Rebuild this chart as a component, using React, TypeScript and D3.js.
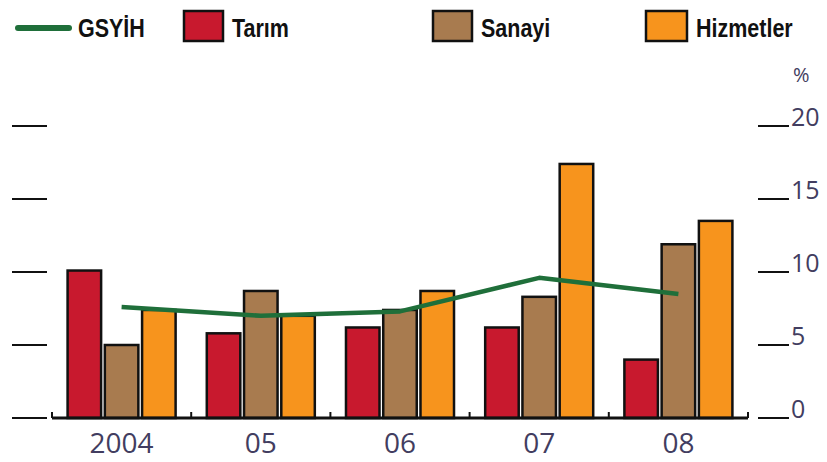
import React, { useEffect, useRef } from 'react';
import * as d3 from 'd3';

const years = ['2004', '05', '06', '07', '08'];
const seriesNames = ['Tarım', 'Sanayi', 'Hizmetler'];
const tarim = [10.1, 5.8, 6.2, 6.2, 4.0];
const sanayi = [5.0, 8.7, 7.4, 8.3, 11.9];
const hizmetler = [7.4, 7.0, 8.7, 17.4, 13.5];
const gsyih = [7.6, 7.0, 7.3, 9.6, 8.5];
const yTicks = [0, 5, 10, 15, 20];

const colors = ['#c8192e', '#a87b4f', '#f7941d'];
const lineColor = '#1f6f3a';
const labelColor = '#423d60';

const App: React.FC = () => {
    const svgRef = useRef<SVGSVGElement>(null);

    useEffect(() => {
        if (!svgRef.current) return;
        const svg = d3.select(svgRef.current);
        svg.selectAll('*').remove();

        const left = 52, right = 748, bottom = 418, top = 126;
        const values = [tarim, sanayi, hizmetler];

        const x0 = d3.scaleBand<string>()
            .domain(years)
            .range([left, right])
            .paddingInner(0.224)
            .paddingOuter(0.112);
        const x1 = d3.scaleBand<string>()
            .domain(seriesNames)
            .range([0, x0.bandwidth()])
            .paddingInner(0.1);
        const y = d3.scaleLinear().domain([0, 20]).range([bottom, top]);

        // left ticks (no labels)
        svg.append('g').selectAll('line').data(yTicks).join('line')
            .attr('x1', 12).attr('x2', 47)
            .attr('y1', d => y(d)).attr('y2', d => y(d))
            .attr('stroke', '#111').attr('stroke-width', 2);

        // right ticks + labels
        const rg = svg.append('g');
        rg.selectAll('line').data(yTicks).join('line')
            .attr('x1', 758).attr('x2', 789)
            .attr('y1', d => y(d)).attr('y2', d => y(d))
            .attr('stroke', '#111').attr('stroke-width', 2);
        rg.selectAll('text').data(yTicks).join('text')
            .attr('x', 791).attr('y', d => y(d))
            .attr('fill', labelColor)
            .attr('font-family', 'Open Sans, sans-serif')
            .attr('font-size', 25)
            .text(d => String(d));
        svg.append('text')
            .attr('x', 793).attr('y', 82)
            .attr('fill', labelColor)
            .attr('font-family', 'Open Sans, sans-serif')
            .attr('font-size', 20)
            .text('%');

        // bars
        years.forEach((yr, i) => {
            const g = svg.append('g').attr('transform', `translate(${x0(yr)},0)`);
            g.selectAll('rect').data(seriesNames).join('rect')
                .attr('x', s => x1(s)!)
                .attr('y', (s, j) => y(values[j][i]))
                .attr('width', x1.bandwidth())
                .attr('height', (s, j) => bottom - y(values[j][i]))
                .attr('fill', (s, j) => colors[j])
                .attr('stroke', '#111')
                .attr('stroke-width', 2.5);
        });

        // x axis baseline with small separators
        svg.append('line')
            .attr('x1', left).attr('x2', right)
            .attr('y1', bottom).attr('y2', bottom)
            .attr('stroke', '#111').attr('stroke-width', 3);
        const seps = years.map(yr => x0(yr)! - (x0.step() - x0.bandwidth()) / 2).concat([right]);
        svg.append('g').selectAll('line').data(seps).join('line')
            .attr('x1', d => d).attr('x2', d => d)
            .attr('y1', bottom).attr('y2', bottom - 6)
            .attr('stroke', '#111').attr('stroke-width', 2);

        svg.append('g').selectAll('text').data(years).join('text')
            .attr('x', d => x0(d)! + x0.bandwidth() / 2)
            .attr('y', 453)
            .attr('text-anchor', 'middle')
            .attr('fill', labelColor)
            .attr('font-family', 'Open Sans, sans-serif')
            .attr('font-size', 28)
            .text(d => d);

        // GSYİH line
        const line = d3.line<number>()
            .x((d, i) => x0(years[i])! + x0.bandwidth() / 2)
            .y(d => y(d));
        svg.append('path')
            .datum(gsyih)
            .attr('d', line)
            .attr('fill', 'none')
            .attr('stroke', lineColor)
            .attr('stroke-width', 4.5)
            .attr('stroke-linejoin', 'round');

        // legend
        const lg = svg.append('g')
            .attr('font-family', '"Liberation Sans", Arial, sans-serif')
            .attr('font-weight', 'bold')
            .attr('font-size', 25)
            .attr('fill', '#111');
        const legendText = (x: number, s: string) =>
            lg.append('text')
                .attr('transform', `translate(${x},37) scale(0.86,1)`)
                .text(s);
        lg.append('line')
            .attr('x1', 18).attr('x2', 69).attr('y1', 28).attr('y2', 28)
            .attr('stroke', lineColor).attr('stroke-width', 6)
            .attr('stroke-linecap', 'round');
        legendText(78, 'GSYİH');
        const boxX = [184, 433, 646];
        const boxW = [39, 39, 41];
        seriesNames.forEach((s, j) => {
            lg.append('rect')
                .attr('x', boxX[j]).attr('y', 11).attr('width', boxW[j]).attr('height', 30)
                .attr('fill', colors[j]).attr('stroke', '#111').attr('stroke-width', 2.5);
            legendText(boxX[j] + boxW[j] + 9, s);
        });
    }, []);

    return (
        <svg ref={svgRef} width={827} height={462}
             style={{ position: 'absolute', left: 0, top: 0, background: '#fff' }} />
    );
};

export default App;
